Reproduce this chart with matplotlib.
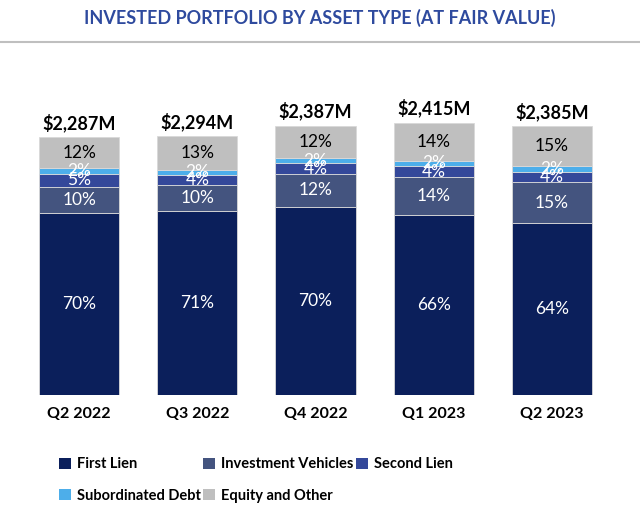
import matplotlib.pyplot as plt
from matplotlib.lines import Line2D
from matplotlib.patches import Patch

quarters = ['Q2 2022', 'Q3 2022', 'Q4 2022', 'Q1 2023', 'Q2 2023']
totals = [2287, 2294, 2387, 2415, 2385]
total_labels = ['$2,287M', '$2,294M', '$2,387M', '$2,415M', '$2,385M']

series_names = ['First Lien', 'Investment Vehicles', 'Second Lien',
                'Subordinated Debt', 'Equity and Other']
first_lien = [70, 71, 70, 66, 64]
invest_veh = [10, 10, 12, 14, 15]
second_lien = [5, 4, 4, 4, 4]
sub_debt = [2, 2, 2, 2, 2]
equity = [12, 13, 12, 14, 15]

colors = ['#0B1F5B', '#44547F', '#34489A', '#4DAEEA', '#BFBFBF']
text_colors = ['white', 'white', 'white', 'white', 'black']

plt.rcParams['font.family'] = ['Lato', 'DejaVu Sans']

fig = plt.figure(figsize=(6.4, 5.16), dpi=100)
ax = fig.add_axes([20 / 640, 121 / 516, 591 / 640, 335 / 516])

series = [first_lien, invest_veh, second_lien, sub_debt, equity]
x = list(range(len(quarters)))
bottoms = [0.0] * len(quarters)
for s, vals in enumerate(series):
    heights = []
    for i in x:
        pct_sum = sum(ser[i] for ser in series)
        heights.append(totals[i] * vals[i] / pct_sum)
    ax.bar(x, heights, 0.68, bottom=bottoms, color=colors[s],
           edgecolor='#D9D9D9', linewidth=0.6)
    for i in x:
        ax.text(i, bottoms[i] + heights[i] / 2, f'{vals[i]}%',
                ha='center', va='center', fontsize=12.5,
                color=text_colors[s])
    bottoms = [b + h for b, h in zip(bottoms, heights)]

for i in x:
    ax.text(i, totals[i] + 45, total_labels[i], ha='center', va='bottom',
            fontsize=13, fontweight='bold', color='black')

ax.set_xlim(-0.5, 4.5)
ax.set_ylim(0, 2970)
ax.set_xticks(x)
ax.set_xticklabels(quarters, fontsize=11.5, fontweight='bold')
ax.tick_params(axis='x', length=0, pad=9)
ax.set_yticks([])
for sp in ax.spines.values():
    sp.set_visible(False)

fig.text(0.5, 1 - 18 / 516, 'INVESTED PORTFOLIO BY ASSET TYPE (AT FAIR VALUE)',
         ha='center', va='center', fontsize=13, fontweight='bold',
         color='#2E4A9E')
fig.add_artist(Line2D([0, 1], [1 - 42 / 516, 1 - 42 / 516],
                      color='#BFBFBF', linewidth=1.5))

handles = [Patch(facecolor=c) for c in colors]
order = [0, 3, 1, 4, 2]
leg = fig.legend([handles[k] for k in order], [series_names[k] for k in order],
                 loc='lower left', bbox_to_anchor=(46 / 640, 0),
                 ncol=3, frameon=False, handlelength=0.8, handleheight=0.8,
                 handletextpad=0.4, columnspacing=0.2, labelspacing=1.2,
                 prop={'size': 10.5, 'weight': 'bold'})

fig.savefig('out.png', dpi=100)
